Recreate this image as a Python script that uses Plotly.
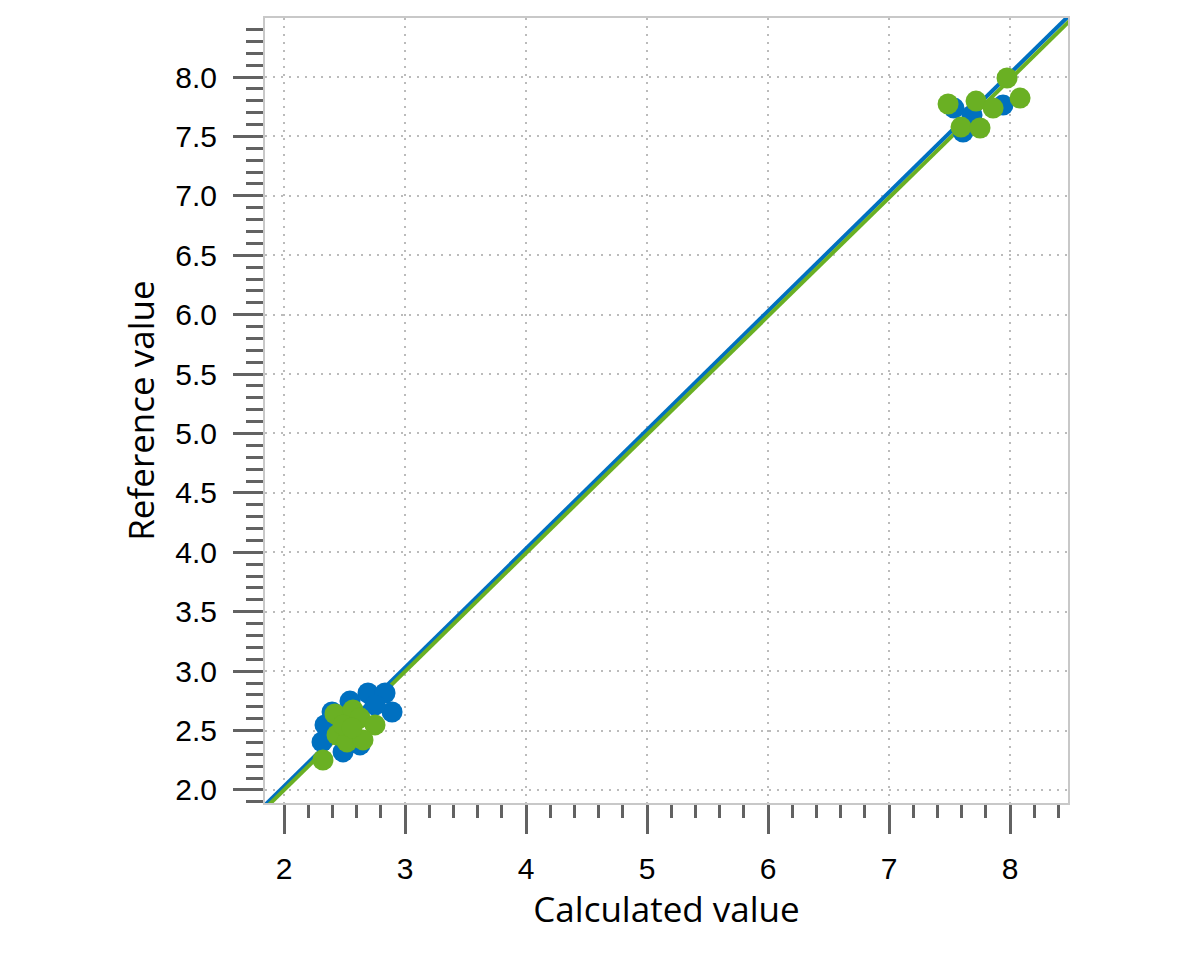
import plotly.graph_objects as go

# Data
blue_x = [2.694, 2.835, 2.893, 2.397, 2.339, 2.314, 2.488, 2.628, 2.545, 2.463, 2.752,
          7.537, 7.612, 7.686, 7.942]
blue_y = [2.816, 2.816, 2.656, 2.656, 2.547, 2.404, 2.320, 2.379, 2.748, 2.505, 2.715,
          7.739, 7.537, 7.680, 7.764]
green_x = [2.322, 2.421, 2.570, 2.438, 2.521, 2.628, 2.752, 2.653, 2.488, 2.562,
           7.488, 7.595, 7.719, 7.752, 7.860, 7.975, 8.083]
green_y = [2.252, 2.640, 2.673, 2.463, 2.404, 2.606, 2.547, 2.421, 2.547, 2.522,
           7.773, 7.579, 7.798, 7.571, 7.739, 7.992, 7.823]

line_x = [1.8, 8.5]
blue_line_y = [1.83, 8.53]
green_line_y = [1.80, 8.48]

x_ticks = [2, 3, 4, 5, 6, 7, 8]
y_ticks = [2.0, 2.5, 3.0, 3.5, 4.0, 4.5, 5.0, 5.5, 6.0, 6.5, 7.0, 7.5, 8.0]

BLUE = "#0070c0"
GREEN = "#6ab023"

fig = go.Figure()
fig.add_trace(go.Scatter(x=line_x, y=blue_line_y, mode="lines",
                         line=dict(color=BLUE, width=4), showlegend=False))
fig.add_trace(go.Scatter(x=line_x, y=green_line_y, mode="lines",
                         line=dict(color=GREEN, width=4), showlegend=False))
fig.add_trace(go.Scatter(x=blue_x, y=blue_y, mode="markers",
                         marker=dict(color=BLUE, size=21), showlegend=False))
fig.add_trace(go.Scatter(x=green_x, y=green_y, mode="markers",
                         marker=dict(color=GREEN, size=21), showlegend=False))

axis_common = dict(
    showline=True, mirror=True, linecolor="#c8c8c8", linewidth=2,
    showgrid=True, gridcolor="#bbbbbb", gridwidth=2, griddash="2px,6px",
    zeroline=False, ticks="outside", tickcolor="#626262", tickwidth=3,
    tickfont=dict(family="Liberation Sans, Arial", size=30, color="#000000"),
)

fig.update_xaxes(
    range=[1.843, 8.479], tickvals=x_ticks, ticktext=[str(v) for v in x_ticks],
    ticklen=29, ticklabelstandoff=9,
    minor=dict(dtick=0.2, tick0=0, ticks="outside", ticklen=13, tickwidth=3,
               tickcolor="#626262", showgrid=False),
    title=dict(text="Calculated value",
               font=dict(family="Open Sans", size=35, color="#000000"), standoff=4),
    **axis_common,
)
fig.update_yaxes(
    range=[1.89, 8.497], tickvals=y_ticks, ticktext=[f"{v:.1f}" for v in y_ticks],
    ticklen=30, ticklabelstandoff=10,
    minor=dict(dtick=0.1, tick0=0, ticks="outside", ticklen=17, tickwidth=3,
               tickcolor="#626262", showgrid=False),
    title=dict(text="Reference value",
               font=dict(family="Open Sans", size=35, color="#000000"), standoff=10),
    **axis_common,
)

fig.update_layout(
    width=1200, height=960,
    margin=dict(l=265, r=132, t=18, b=157),
    plot_bgcolor="white", paper_bgcolor="white",
)

fig.write_html("out.html")
